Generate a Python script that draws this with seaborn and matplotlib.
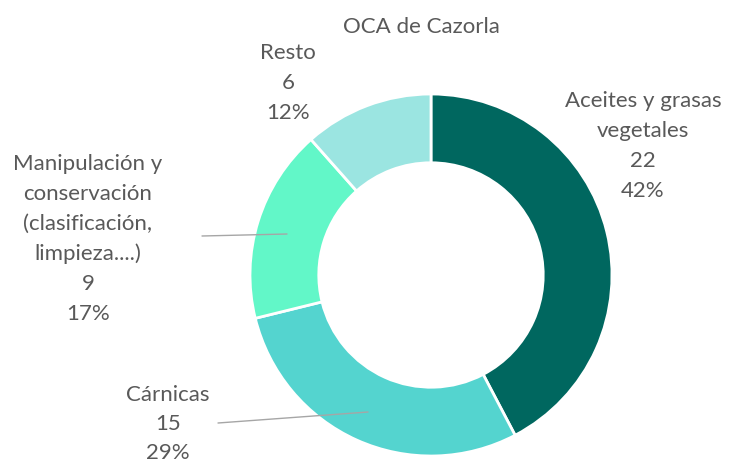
import seaborn as sns
import matplotlib.pyplot as plt

categorias = ['Aceites y grasas\nvegetales', 'Cárnicas',
              'Manipulación y\nconservación\n(clasificación,\nlimpieza....)', 'Resto']
valores = [22, 15, 9, 6]
colores = ['#00675f', '#54d4cf', '#62f7c8', '#9be5e1']

sns.set_style('white')
plt.rcParams['font.family'] = ['Lato', 'DejaVu Sans']

W, H = 730, 462
cx, cy, r = 431, 275, 181

fig = plt.figure(figsize=(W / 100, H / 100), dpi=100)
ax = fig.add_axes([(cx - r) / W, (H - cy - r) / H, 2 * r / W, 2 * r / H])
ax.pie(valores, colors=colores, startangle=90, counterclock=False, radius=1,
       wedgeprops=dict(width=0.38, edgecolor='white', linewidth=2))
ax.set_xlim(-1, 1)
ax.set_ylim(-1, 1)
ax.axis('off')

gris = '#595959'
fs = 16
paso = 30  # separacion entre lineas en pixeles

def texto_px(x, y, s, sep=paso):
    fig.text(x / W, 1 - y / H, s, ha='center', va='baseline',
             fontsize=fs, color=gris)

total = sum(valores)
# centro x, linea base de la primera linea y paso de cada etiqueta, en pixeles
pos_etiquetas = [(643, 107, 30), (168, 401, 29), (88, 170, 30), (288, 59, 30)]
for cat, v, (x, y, sep) in zip(categorias, valores, pos_etiquetas):
    lineas = cat.split('\n') + [str(v), f'{round(v / total * 100)}%']
    for i, linea in enumerate(lineas):
        texto_px(x, y + i * sep, linea)

# lineas guia
for (x0, y0), (x1, y1) in [((202, 236), (287, 234)), ((218, 423), (368, 412))]:
    fig.add_artist(plt.Line2D([x0 / W, x1 / W], [1 - y0 / H, 1 - y1 / H],
                              color='#a6a6a6', lw=1))

texto_px(421, 33, 'OCA de Cazorla')

fig.savefig('out.png', dpi=100, facecolor='white')
